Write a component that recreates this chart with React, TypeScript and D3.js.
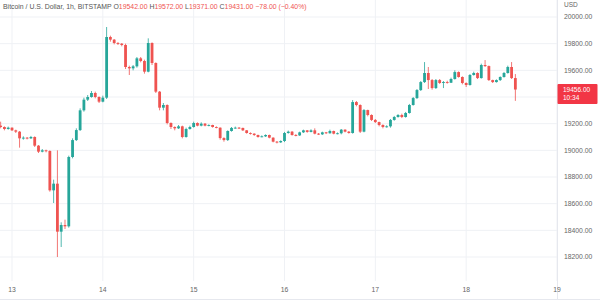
import React from "react";
import * as d3 from "d3";

// hourly candles, first candle 3 hours before day 13 00:00
const START_HOUR = -3;
const FIRST_OPEN = 19185;
const closes = [
  19175, 19160, 19170, 19150, 19140, 19090, 19095, 19090, 19100, 19035,
  18990, 19000, 18995, 18700, 18750, 18390, 18440, 18430, 18950, 19077,
  19152, 19300, 19380, 19400, 19430, 19400, 19365, 19395, 19850, 19830,
  19805, 19800, 19790, 19625, 19615, 19630, 19690, 19670, 19590, 19805,
  19655, 19440, 19320, 19340, 19205, 19175, 19165, 19180, 19100, 19160,
  19175, 19205, 19185, 19200, 19185, 19190, 19175, 19170, 19092, 19077,
  19145, 19168, 19170, 19168, 19150, 19130, 19125, 19115, 19100, 19105,
  19115, 19095, 19065, 19060, 19070, 19130, 19140, 19115, 19112, 19135,
  19150, 19138, 19150, 19125, 19120, 19135, 19128, 19145, 19125, 19128,
  19155, 19140, 19130, 19362, 19340, 19140, 19302, 19265, 19228, 19212,
  19190, 19175, 19180, 19228, 19250, 19265, 19250, 19280, 19340, 19392,
  19452, 19512, 19580, 19527, 19467, 19527, 19505, 19512, 19507, 19535,
  19587, 19550, 19505, 19490, 19565, 19580, 19542, 19640, 19632, 19527,
  19512, 19527, 19550, 19580, 19625, 19542, 19456,
];
const highs = [
  19215, 19180, 19178, 19172, 19155, 19145, 19105, 19100, 19108, 19105,
  19040, 19010, 19005, 19000, 18780, 19000, 18460, 18480, 18960, 19090,
  19165, 19315, 19395, 19415, 19445, 19440, 19405, 19410, 19925, 19860,
  19835, 19812, 19805, 19800, 19635, 19640, 19700, 19700, 19680, 19840,
  19810, 19660, 19445, 19355, 19345, 19210, 19180, 19190, 19185, 19170,
  19185, 19215, 19210, 19210, 19205, 19195, 19192, 19180, 19172, 19098,
  19150, 19175, 19178, 19175, 19170, 19152, 19135, 19128, 19118, 19112,
  19120, 19118, 19098, 19070, 19075, 19138, 19148, 19145, 19122, 19140,
  19155, 19152, 19158, 19165, 19130, 19140, 19138, 19155, 19148, 19134,
  19160, 19158, 19145, 19377, 19370, 19345, 19310, 19305, 19270, 19235,
  19215, 19195, 19188, 19235, 19258, 19272, 19275, 19288, 19348, 19400,
  19460, 19520, 19662, 19625, 19535, 19535, 19535, 19520, 19522, 19545,
  19600, 19592, 19555, 19510, 19572, 19590, 19585, 19650, 19677, 19636,
  19530, 19532, 19555, 19588, 19635, 19662, 19572,
];
const lows = [
  19165, 19150, 19155, 19145, 19130, 19020, 19080, 19082, 19085, 19025,
  18980, 18985, 18985, 18690, 18605, 18200, 18275, 18410, 18420, 18940,
  19070, 19145, 19290, 19370, 19395, 19390, 19355, 19360, 19385, 19815,
  19795, 19790, 19780, 19610, 19565, 19600, 19620, 19660, 19575, 19585,
  19640, 19430, 19300, 19300, 19195, 19160, 19150, 19160, 19090, 19095,
  19155, 19170, 19180, 19180, 19180, 19180, 19170, 19165, 19080, 19065,
  19070, 19140, 19162, 19160, 19145, 19125, 19118, 19108, 19095, 19098,
  19100, 19090, 19060, 19052, 19055, 19062, 19125, 19110, 19105, 19108,
  19130, 19132, 19135, 19120, 19115, 19115, 19122, 19125, 19120, 19120,
  19120, 19135, 19125, 19125, 19330, 19130, 19135, 19255, 19220, 19205,
  19180, 19165, 19170, 19170, 19222, 19245, 19242, 19245, 19275, 19335,
  19385, 19445, 19505, 19460, 19455, 19460, 19498, 19467, 19500, 19505,
  19530, 19545, 19495, 19475, 19485, 19560, 19535, 19538, 19625, 19520,
  19505, 19508, 19520, 19545, 19575, 19535, 19371,
];

const priceTicks = [20000, 19800, 19600, 19400, 19200, 19000, 18800, 18600, 18400, 18200];
const dayLabels = ["13", "14", "15", "16", "17", "18", "19"];
const titleText = "Bitcoin / U.S. Dollar, 1h, BITSTAMP";
const ohlcText = [
  { k: "O", v: "19542.00" },
  { k: "H", v: "19572.00" },
  { k: "L", v: "19371.00" },
  { k: "C", v: "19431.00" },
];
const changeText = "−78.00 (−0.40%)";
const lastPrice = 19456;
const lastPriceLabel = "19456.00";
const countdownLabel = "10:34";
const currencyLabel = "USD";

const UP = "#26a69a";
const DOWN = "#ef5350";
const GRID = "#eff1f5";
const FONT = "'Liberation Sans', Arial, sans-serif";

export default function App() {
  const W = 600;
  const H = 300;
  const plotRight = 557;
  const x = d3.scaleLinear().domain([0, 144]).range([12, 557]);
  const y = d3.scaleLinear().domain([18200, 20000]).range([257, 17]);
  const bodyW = 2.8;

  const candles = closes.map((c, i) => {
    const o = i === 0 ? FIRST_OPEN : closes[i - 1];
    return { hour: START_HOUR + i, o, c, h: highs[i], l: lows[i] };
  });

  const hidden = (p: number) => Math.abs(y(p) - y(lastPrice)) < 12;

  return (
    <svg
      width={W}
      height={H}
      style={{ position: "absolute", left: 0, top: 0, background: "#fff" }}
      fontFamily={FONT}
    >
      {/* grid */}
      {priceTicks.map((p) => (
        <line key={"g" + p} x1={0} x2={plotRight} y1={y(p)} y2={y(p)} stroke={GRID} strokeWidth={1} />
      ))}
      {dayLabels.map((d, i) => (
        <line key={"v" + d} x1={x(i * 24)} x2={x(i * 24)} y1={0} y2={281} stroke={GRID} strokeWidth={1} />
      ))}
      <line x1={plotRight + 0.5} x2={plotRight + 0.5} y1={0} y2={300} stroke="#e6e8ee" />
      <line x1={0} x2={W} y1={299.5} y2={299.5} stroke="#e6e8ee" />

      {/* candles */}
      {candles.map((k) => {
        const col = k.c >= k.o ? UP : DOWN;
        const cx = x(k.hour);
        const top = y(Math.max(k.o, k.c));
        const bot = y(Math.min(k.o, k.c));
        return (
          <g key={k.hour}>
            <line x1={cx} x2={cx} y1={y(k.h)} y2={y(k.l)} stroke={col} strokeWidth={0.8} />
            <rect x={cx - bodyW / 2} y={top} width={bodyW} height={Math.max(bot - top, 0.9)} fill={col} />
          </g>
        );
      })}

      {/* title */}
      <text x={3} y={9} fontSize={6.9} fill="#555">
        <tspan>{titleText} </tspan>
        {ohlcText.map((t) => (
          <tspan key={t.k}>
            <tspan fill="#555">{" " + t.k}</tspan>
            <tspan fill={DOWN}>{t.v}</tspan>
          </tspan>
        ))}
        <tspan fill={DOWN}>{" " + changeText}</tspan>
      </text>

      {/* price axis */}
      <text x={564} y={7} fontSize={6.5} fill="#666">{currencyLabel}</text>
      {priceTicks.filter((p) => !hidden(p)).map((p) => (
        <text key={"t" + p} x={564} y={y(p) + 2.3} fontSize={6.8} fill="#666">
          {d3.format(".2f")(p)}
        </text>
      ))}
      <rect x={557.5} y={y(lastPrice) - 5.5} width={40} height={20} rx={1} fill="#f23645" />
      <text x={563} y={y(lastPrice) + 2} fontSize={6.5} fill="#fff">{lastPriceLabel}</text>
      <text x={563} y={y(lastPrice) + 10.5} fontSize={6.5} fill="#fff">{countdownLabel}</text>

      {/* time axis */}
      {dayLabels.map((d, i) => (
        <text key={"d" + d} x={x(i * 24)} y={292} fontSize={6.8} fill="#666" textAnchor="middle">
          {d}
        </text>
      ))}
    </svg>
  );
}
